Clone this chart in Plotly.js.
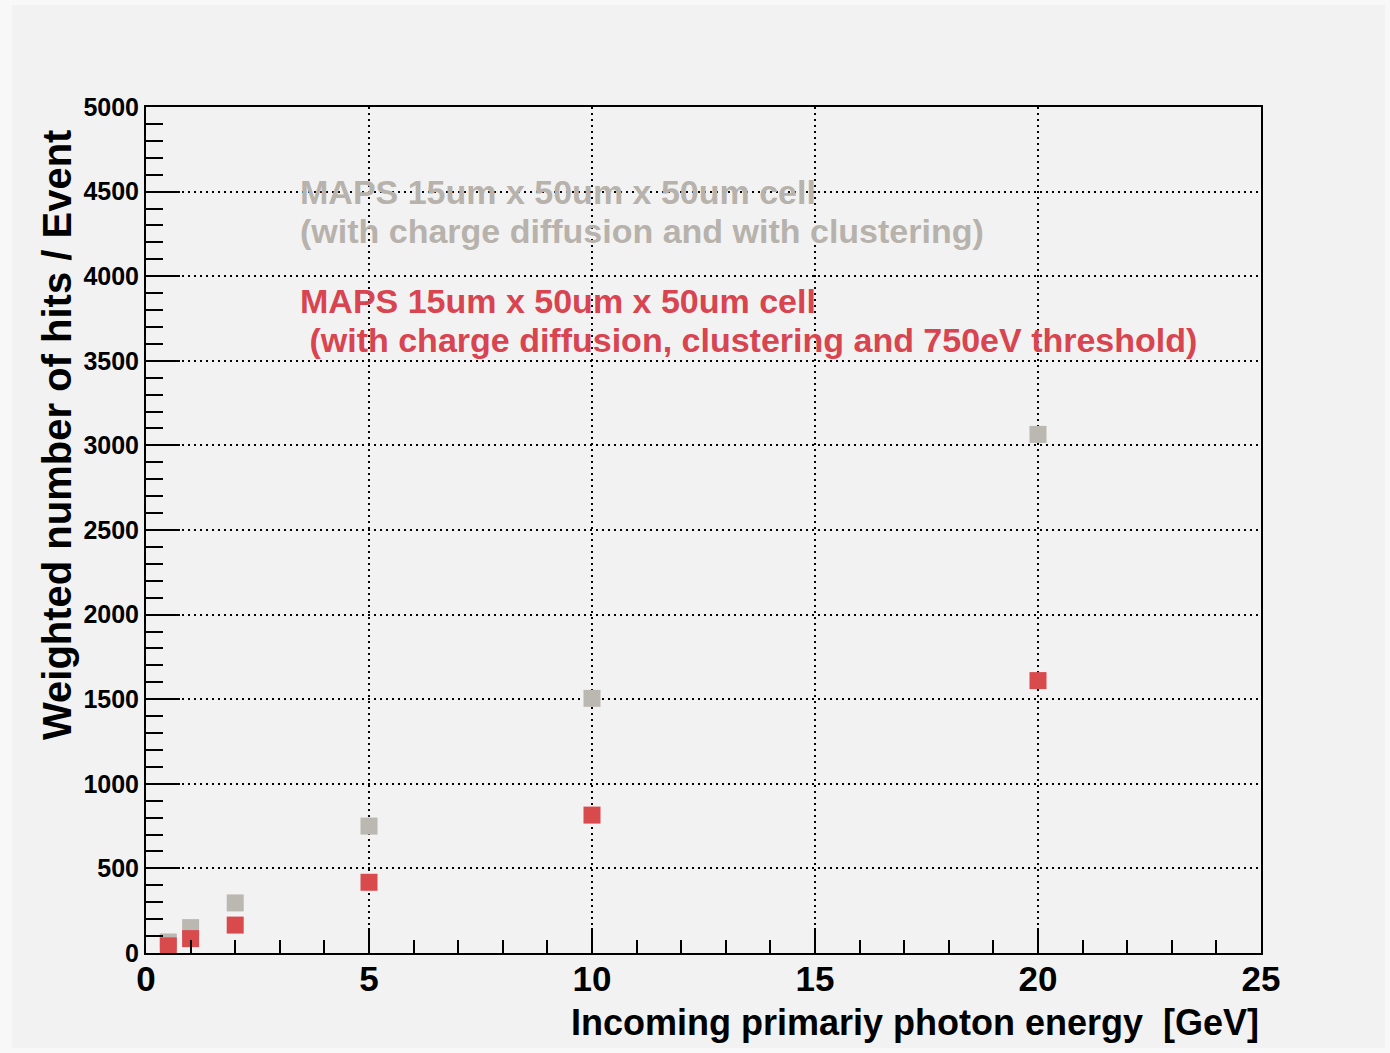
<!DOCTYPE html>
<html>
<head>
<meta charset="utf-8">
<script src="https://cdn.plot.ly/plotly-3.0.1.min.js"></script>
<style>html,body{margin:0;padding:0;background:#f8f8f8;}</style>
</head>
<body>
<div id="chart" style="width:1390px;height:1053px;"></div>
<script>
// Data
const energies = [0.5, 1, 2, 5, 10, 20];
const hitsDiffusionClustering = [65, 150, 296, 750, 1505, 3065];
const hitsThreshold = [42, 85, 165, 418, 815, 1610];

const grayName = "MAPS 15um x 50um x 50um cell (with charge diffusion and with clustering)";
const redName = "MAPS 15um x 50um x 50um cell (with charge diffusion, clustering and 750eV threshold)";
const grayLines = ["MAPS 15um x 50um x 50um cell", "(with charge diffusion and with clustering)"];
const redLines = ["MAPS 15um x 50um x 50um cell", " (with charge diffusion, clustering and 750eV threshold)"];
const xTitle = "Incoming primariy photon energy  [GeV]";
const yTitle = "Weighted number of hits / Event";

const grayCol = '#bbb7b1';
const redCol = '#d84a4c';
const grayText = '#b7b2ac';
const redText = '#d8444f';
const FONT = 'Liberation Sans, Arial, sans-serif';

const traces = [
  {x: energies, y: hitsDiffusionClustering, name: grayName, type: 'scatter', mode: 'markers',
   marker: {symbol: 'square', size: 17, color: grayCol}},
  {x: energies, y: hitsThreshold, name: redName, type: 'scatter', mode: 'markers',
   marker: {symbol: 'square', size: 17, color: redCol}}
];

const annFont = (c) => ({family: FONT, size: 34, color: c, weight: 'bold'});
const layout = {
  width: 1390, height: 1053,
  margin: {l: 146, r: 129, t: 107, b: 100},
  paper_bgcolor: '#f8f8f8',
  plot_bgcolor: '#f2f2f2',
  showlegend: false,
  xaxis: {
    range: [0, 25], dtick: 5, tick0: 0,
    showline: true, mirror: true, linecolor: 'black', linewidth: 2,
    ticks: 'inside', ticklen: 25, tickwidth: 2, tickcolor: 'black',
    minor: {dtick: 1, ticks: 'inside', ticklen: 13, tickwidth: 2, tickcolor: 'black', showgrid: false},
    showgrid: true, gridcolor: 'black', gridwidth: 2, griddash: '2px,4px',
    zeroline: false,
    tickfont: {family: FONT, size: 35, color: 'black', weight: 'bold'},
    ticklabelstandoff: -6
  },
  yaxis: {
    range: [0, 5000], dtick: 500, tick0: 0,
    showline: true, mirror: true, linecolor: 'black', linewidth: 2,
    ticks: 'inside', ticklen: 34, tickwidth: 2, tickcolor: 'black',
    minor: {dtick: 100, ticks: 'inside', ticklen: 17, tickwidth: 2, tickcolor: 'black', showgrid: false},
    showgrid: true, gridcolor: 'black', gridwidth: 2, griddash: '2px,4px',
    zeroline: false,
    tickfont: {family: FONT, size: 25, color: 'black', weight: 'bold'}
  },
  shapes: [
    {type: 'rect', xref: 'paper', yref: 'paper', layer: 'below',
     x0: -134/1115, x1: 1239/1115, y0: -95/846, y1: 948/846,
     fillcolor: '#f2f2f2', line: {width: 0}}
  ],
  annotations: [
    {x: 3.4, y: 4500, xref: 'x', yref: 'y', xanchor: 'left', yanchor: 'middle', showarrow: false,
     text: grayLines[0], font: annFont(grayText)},
    {x: 3.4, y: 4265, xref: 'x', yref: 'y', xanchor: 'left', yanchor: 'middle', showarrow: false,
     text: grayLines[1], font: annFont(grayText)},
    {x: 3.4, y: 3855, xref: 'x', yref: 'y', xanchor: 'left', yanchor: 'middle', showarrow: false,
     text: redLines[0], font: annFont(redText)},
    {x: 3.4, y: 3625, xref: 'x', yref: 'y', xanchor: 'left', yanchor: 'middle', showarrow: false,
     text: redLines[1].replace(/^ /, '&nbsp;'), font: annFont(redText)},
    {x: 1, y: -69/846, xref: 'paper', yref: 'paper', xanchor: 'right', yanchor: 'middle', showarrow: false,
     text: xTitle, font: {family: FONT, size: 36, color: 'black', weight: 'bold'}},
    {x: -89/1115, y: 1 - 21/846, xref: 'paper', yref: 'paper', xanchor: 'center', yanchor: 'top', showarrow: false,
     textangle: -90, text: yTitle, font: {family: FONT, size: 40, color: 'black', weight: 'bold'}}
  ]
};

Plotly.newPlot('chart', traces, layout, {displayModeBar: false, staticPlot: true});
</script>
</body>
</html>
